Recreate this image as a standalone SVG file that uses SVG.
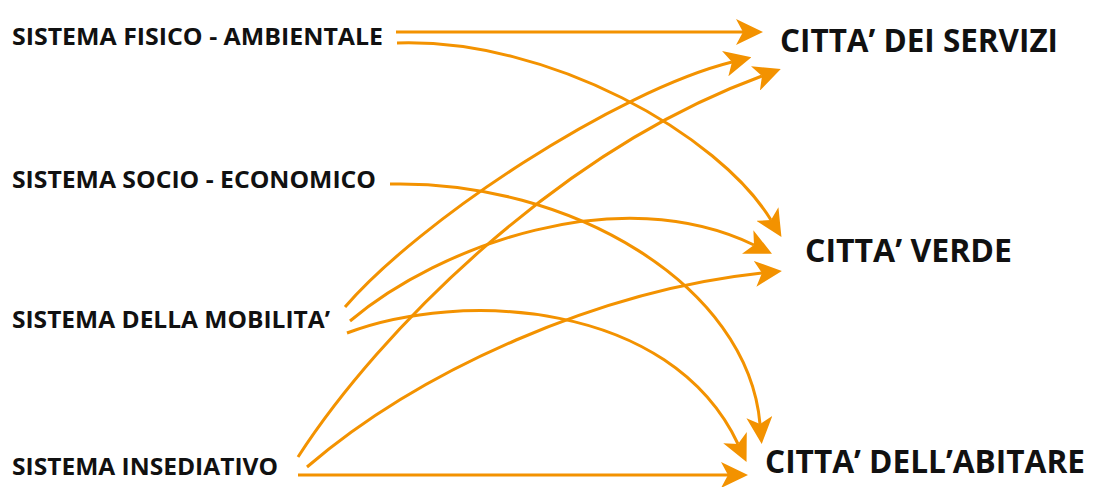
<svg xmlns="http://www.w3.org/2000/svg" width="1094" height="487" viewBox="0 0 1094 487">
<style>
.lbl{font-family:"Open Sans","Liberation Sans",sans-serif;font-weight:700;fill:#111;}
.src{font-size:24px;}
.dst{font-size:32px;}
.c{fill:none;stroke:#F39200;stroke-width:3;marker-end:url(#ah);}
</style>
<defs>
<marker id="ah" markerUnits="userSpaceOnUse" viewBox="0 0 27 26" markerWidth="27" markerHeight="26" refX="7" refY="13" orient="auto">
<path d="M0,0 L27,13 L0,26 L7,13 Z" fill="#F39200"/>
</marker>
</defs>
<rect width="1094" height="487" fill="#fff"/>
<g id="connectors">
<path class="c" d="M396,32 L743,32"/>
<path class="c" d="M397,43 C550,38 719,135 771,220"/>
<path class="c" d="M390,184 C570,180 748,285 760,424"/>
<path class="c" d="M345,307 C420,220 616,91 732,62"/>
<path class="c" d="M350,321 C440,245 620,180 754,245"/>
<path class="c" d="M347,333 C460,290 670,300 738,444"/>
<path class="c" d="M298,457 C380,330 560,150 762,76"/>
<path class="c" d="M307,467 C420,370 600,290 762,273"/>
<path class="c" d="M298,475 L728,475"/>
</g>
<g id="sistema-fisico"><text class="lbl src" x="12" y="45" textLength="371" lengthAdjust="spacingAndGlyphs">SISTEMA FISICO - AMBIENTALE</text></g>
<g id="sistema-socio"><text class="lbl src" x="12" y="188" textLength="364" lengthAdjust="spacingAndGlyphs">SISTEMA SOCIO - ECONOMICO</text></g>
<g id="sistema-mobilita"><text class="lbl src" x="12" y="328" textLength="318" lengthAdjust="spacingAndGlyphs">SISTEMA DELLA MOBILITA’</text></g>
<g id="sistema-insediativo"><text class="lbl src" x="12" y="475" textLength="266" lengthAdjust="spacingAndGlyphs">SISTEMA INSEDIATIVO</text></g>
<g id="citta-servizi"><text class="lbl dst" x="780" y="52" textLength="278" lengthAdjust="spacingAndGlyphs">CITTA’ DEI SERVIZI</text></g>
<g id="citta-verde"><text class="lbl dst" x="805" y="262" textLength="207" lengthAdjust="spacingAndGlyphs">CITTA’ VERDE</text></g>
<g id="citta-abitare"><text class="lbl dst" x="765" y="473" textLength="320" lengthAdjust="spacingAndGlyphs">CITTA’ DELL’ABITARE</text></g>
</svg>
